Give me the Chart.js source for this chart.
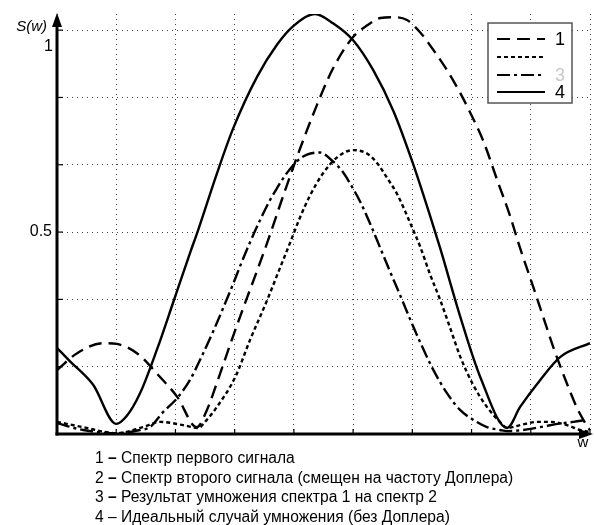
<!DOCTYPE html>
<html>
<head>
<meta charset="utf-8">
<script src="https://cdn.jsdelivr.net/npm/chart.js@4.4.1/dist/chart.umd.min.js"></script>
<style>
  html, body { margin:0; padding:0; background:#fff; }
  #wrap { position:relative; width:594px; height:525px; }
  #chart { position:absolute; left:0; top:0; }
  .cap { position:absolute; left:95px; font:15.6px "Liberation Sans", Arial, sans-serif; color:#000; white-space:nowrap; line-height:18px; }
  .cap b { font-weight:bold; }
</style>
</head>
<body>
<div id="wrap">
  <canvas id="chart" width="594" height="525"></canvas>
  <div class="cap" style="top:449px">1 <b>–</b> Спектр первого сигнала</div>
  <div class="cap" style="top:469px">2 <b>–</b> Спектр второго сигнала (смещен на частоту Доплера)</div>
  <div class="cap" style="top:488px">3 <b>–</b> Результат умножения спектра 1 на спектр 2</div>
  <div class="cap" style="top:508px">4 – Идеальный случай умножения (без Доплера)</div>
</div>
<script>
// ---------- Data ----------
// 1 - first signal spectrum
const w1 = [0, 0.34, 0.78, 1.01, 1.35, 1.74, 2.03, 2.36, 2.53, 2.72, 2.92, 3.14, 3.38, 3.56, 3.82, 4.10, 4.39, 4.66, 5.00, 5.24, 5.46, 5.68, 5.91, 6.13, 6.35, 6.59, 6.81, 6.98, 7.20, 7.43, 7.65, 7.82, 8.04, 8.21, 8.38, 8.61, 8.78, 8.95, 9.0];
const s1 = [0.158, 0.200, 0.225, 0.223, 0.200, 0.141, 0.092, 0.017, 0.059, 0.135, 0.220, 0.310, 0.405, 0.478, 0.590, 0.705, 0.815, 0.905, 0.983, 1.012, 1.030, 1.032, 1.025, 0.995, 0.952, 0.900, 0.844, 0.795, 0.725, 0.630, 0.540, 0.460, 0.365, 0.290, 0.215, 0.125, 0.065, 0.020, 0.010];
// 2 - second signal spectrum (doppler shifted)
const w2 = [0, 0.44, 1.01, 1.45, 1.74, 2.13, 2.38, 2.53, 2.70, 3.01, 3.26, 3.55, 3.77, 3.94, 4.10, 4.27, 4.49, 4.73, 5.00, 5.24, 5.41, 5.57, 5.74, 6.00, 6.13, 6.30, 6.47, 6.64, 6.81, 7.03, 7.26, 7.48, 7.60, 7.82, 8.11, 8.33, 8.61, 8.83, 9.0];
const s2 = [0.030, 0.017, 0.002, 0.017, 0.030, 0.022, 0.015, 0.035, 0.067, 0.141, 0.233, 0.332, 0.413, 0.475, 0.535, 0.590, 0.645, 0.685, 0.703, 0.694, 0.670, 0.635, 0.595, 0.510, 0.465, 0.395, 0.332, 0.262, 0.191, 0.121, 0.067, 0.030, 0.015, 0.022, 0.030, 0.030, 0.022, 0.010, 0.005];
// 3 - product of 1 and 2
const w3 = [0, 0.44, 1.01, 1.40, 1.57, 1.79, 2.03, 2.25, 2.42, 2.64, 2.80, 2.97, 3.09, 3.26, 3.43, 3.60, 3.72, 3.85, 4.05, 4.22, 4.44, 4.66, 4.83, 4.95, 5.12, 5.29, 5.46, 5.63, 5.79, 5.96, 6.13, 6.35, 6.59, 6.81, 7.03, 7.26, 7.48, 7.60, 7.87, 8.16, 8.45, 8.72, 8.95];
const s3 = [0.027, 0.010, 0.002, 0.010, 0.017, 0.054, 0.089, 0.135, 0.185, 0.255, 0.310, 0.370, 0.415, 0.475, 0.530, 0.580, 0.610, 0.640, 0.675, 0.692, 0.697, 0.675, 0.648, 0.620, 0.575, 0.520, 0.460, 0.400, 0.345, 0.285, 0.228, 0.160, 0.100, 0.059, 0.035, 0.017, 0.010, 0.007, 0.010, 0.017, 0.025, 0.030, 0.035];
// 4 - ideal case (no doppler)
const w4 = [0, 0.22, 0.61, 1.0, 1.18, 1.40, 1.69, 1.96, 2.25, 2.36, 2.70, 2.97, 3.38, 3.72, 3.99, 4.36, 4.66, 5.00, 5.34, 5.68, 6.01, 6.30, 6.47, 6.81, 7.15, 7.60, 7.82, 8.16, 8.50, 9.0];
const s4 = [0.213, 0.180, 0.122, 0.025, 0.045, 0.100, 0.210, 0.325, 0.450, 0.495, 0.645, 0.755, 0.885, 0.965, 1.010, 1.040, 1.017, 0.975, 0.901, 0.800, 0.670, 0.540, 0.460, 0.290, 0.140, 0.015, 0.067, 0.134, 0.191, 0.225];

const yGrid = [0, 1/6, 2/6, 3/6, 4/6, 5/6, 1];
const yLabels = {0.5: '0.5', 1: '1'};
const legendNames = ['1', '', '3', '4'];

// ---------- Styles ----------
const dashes = [[13, 7], [4, 3], [13, 4, 3, 4], []];
const pts = (xs, ys) => xs.map((x, i) => ({x, y: ys[i]}));
const mk = (xs, ys, i) => ({
  data: pts(xs, ys), borderColor: '#000', borderWidth: 2.4, borderDash: dashes[i],
  pointRadius: 0, fill: false, cubicInterpolationMode: 'monotone'
});

const font = '"Liberation Sans", Arial, sans-serif';

// axes, arrows, ticks, labels, legend
const deco = {
  id: 'deco',
  afterDatasetsDraw(chart){
    const {ctx, chartArea: a, scales: {x, y}} = chart;
    ctx.save();
    ctx.strokeStyle = '#000'; ctx.fillStyle = '#000';
    // ticks
    ctx.lineWidth = 1.2;
    yGrid.forEach(v => { const py = y.getPixelForValue(v); ctx.beginPath(); ctx.moveTo(a.left, py); ctx.lineTo(a.left + 6, py); ctx.stroke(); });
    for(let v = 1; v <= 9; v++){ const px = x.getPixelForValue(v); ctx.beginPath(); ctx.moveTo(px, a.bottom); ctx.lineTo(px, a.bottom - 5); ctx.stroke(); }
    // axis lines
    ctx.lineWidth = 3;
    ctx.beginPath(); ctx.moveTo(a.left, a.bottom + 1.5); ctx.lineTo(a.left, a.top + 12); ctx.stroke();
    ctx.beginPath(); ctx.moveTo(a.left - 1.5, a.bottom); ctx.lineTo(a.right - 8, a.bottom); ctx.stroke();
    // arrows
    ctx.beginPath(); ctx.moveTo(a.left, a.top - 1); ctx.lineTo(a.left - 5, a.top + 13); ctx.lineTo(a.left + 5, a.top + 13); ctx.closePath(); ctx.fill();
    ctx.beginPath(); ctx.moveTo(a.right + 3, a.bottom); ctx.lineTo(a.right - 11, a.bottom - 5); ctx.lineTo(a.right - 11, a.bottom + 5); ctx.closePath(); ctx.fill();
    // labels
    ctx.textBaseline = 'middle';
    ctx.font = '16px ' + font; ctx.textAlign = 'right';
    ctx.fillText(yLabels[0.5], a.left - 5, y.getPixelForValue(0.5));
    ctx.fillText(yLabels[1], a.left - 4, y.getPixelForValue(1) + 16);
    ctx.font = 'italic 15px ' + font;
    ctx.fillText('S(w)', a.left - 10, a.top + 13);
    ctx.font = '15px ' + font; ctx.textAlign = 'center';
    ctx.fillText('w', a.right - 7, a.bottom + 9);
    // legend
    const L = 488, T = 23, R = 572, B = 103;
    ctx.fillStyle = '#fff'; ctx.fillRect(L, T, R - L, B - T);
    ctx.strokeStyle = '#555'; ctx.lineWidth = 1.5; ctx.strokeRect(L, T, R - L, B - T);
    const rows = [39, 57, 75, 92];
    ctx.strokeStyle = '#000'; ctx.lineWidth = 2;
    rows.forEach((ry, i) => {
      ctx.setLineDash(dashes[i]);
      ctx.beginPath(); ctx.moveTo(497, ry); ctx.lineTo(545, ry); ctx.stroke();
    });
    ctx.setLineDash([]);
    ctx.font = '18px ' + font; ctx.textAlign = 'left';
    legendNames.forEach((n, i) => {
      ctx.fillStyle = i === 2 ? '#c8c8c8' : '#000';
      ctx.fillText(n, 555, rows[i] + 1);
    });
    ctx.restore();
  }
};

new Chart(document.getElementById('chart'), {
  type: 'line',
  data: { datasets: [mk(w1, s1, 0), mk(w2, s2, 1), mk(w3, s3, 2), mk(w4, s4, 3)] },
  options: {
    responsive: false, animation: false,
    layout: { padding: { left: 57, right: 4, top: 14, bottom: 91 } },
    plugins: { legend: { display: false }, tooltip: { enabled: false } },
    scales: {
      x: {
        type: 'linear', min: 0, max: 9,
        ticks: { display: false, stepSize: 1 },
        grid: { color: '#444', lineWidth: 1, drawTicks: false },
        border: { display: false, dash: [1, 4] }
      },
      y: {
        min: 0, max: 1.04,
        afterBuildTicks: s => { s.ticks = yGrid.map(v => ({value: v})); },
        ticks: { display: false },
        grid: { color: '#444', lineWidth: 1, drawTicks: false },
        border: { display: false, dash: [1, 4] }
      }
    }
  },
  plugins: [deco]
});
</script>
</body>
</html>
